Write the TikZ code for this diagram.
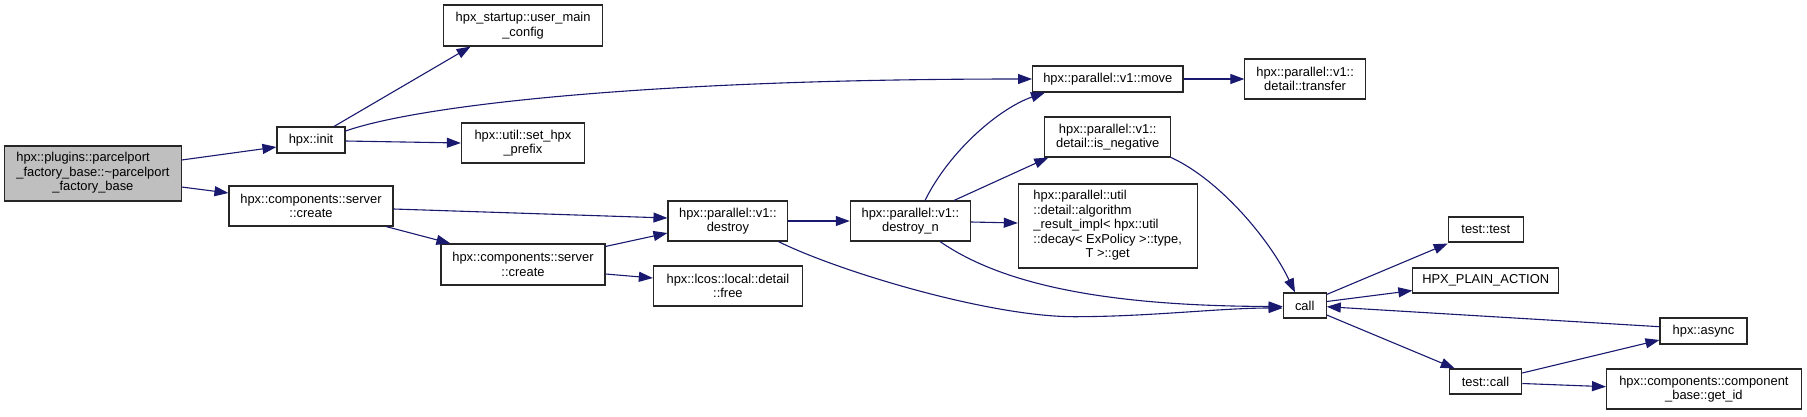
\documentclass[tikz,border=0pt]{standalone}
\usepackage{fontspec}
\setmainfont{Liberation Sans}
\usetikzlibrary{arrows.meta,calc}
\definecolor{edgec}{HTML}{191970}
\definecolor{rootfill}{HTML}{BFBFBF}
\begin{document}
\begin{tikzpicture}[x=1pt,y=-1pt,
  box/.style={draw=black!85, line width=1.1pt, fill=white, inner sep=0pt, align=center,
    font=\fontsize{12.9}{14.5}\selectfont},
  e/.style={draw=edgec, line width=1.1pt, -{Triangle[length=14pt,width=10pt]}}]
\useasboundingbox (0,0) rectangle (1807,416);
\fill[white] (0,0) rectangle (1807,416);
% nodes
\node[box, fill=rootfill, minimum width=176.3pt, minimum height=55pt] (root) at (92.9,173.5)
  {\begin{tabular}{@{}l@{}}hpx::plugins::parcelport\\\_factory\_base::\textasciitilde parcelport\\\multicolumn{1}{@{}c@{}}{\_factory\_base}\end{tabular}};
\node[box, minimum width=68pt, minimum height=26pt] (init) at (311,140) {hpx::init};
\node[box, minimum width=159pt, minimum height=41pt] (umc) at (523.1,25.5) {hpx\_startup::user\_main\\\_config};
\node[box, minimum width=123pt, minimum height=40pt] (shp) at (522.9,143) {hpx::util::set\_hpx\\\_prefix};
\node[box, minimum width=164pt, minimum height=40pt] (cra) at (311,206) {hpx::components::server\\::create};
\node[box, minimum width=164pt, minimum height=41pt] (crb) at (523,264.5) {hpx::components::server\\::create};
\node[box, minimum width=150.4pt, minimum height=26pt] (move) at (1107.8,79) {hpx::parallel::v1::move};
\node[box, minimum width=125.8pt, minimum height=40pt] (isneg) at (1107.7,137) {hpx::parallel::v1::\\detail::is\_negative};
\node[box, minimum width=119.8pt, minimum height=40pt] (destroy) at (727.9,221) {hpx::parallel::v1::\\destroy};
\node[box, minimum width=120.2pt, minimum height=40pt] (destroyn) at (910.4,221) {hpx::parallel::v1::\\destroy\_n};
\node[box, minimum width=178.7pt, minimum height=84pt] (algo) at (1107.7,226)
  {\begin{tabular}{@{}l@{}}hpx::parallel::util\\::detail::algorithm\\\_result\_impl< hpx::util\\::decay< ExPolicy >::type,\\\multicolumn{1}{@{}c@{}}{T >::get}\end{tabular}};
\node[box, minimum width=149pt, minimum height=40pt] (free) at (727.9,286) {hpx::lcos::local::detail\\::free};
\node[box, minimum width=120.4pt, minimum height=40pt] (transfer) at (1305.1,79) {hpx::parallel::v1::\\detail::transfer};
\node[box, minimum width=43pt, minimum height=25pt] (call) at (1304.7,305.5) {call};
\node[box, minimum width=75pt, minimum height=25pt] (ttest) at (1485.8,229.5) {test::test};
\node[box, minimum width=145.6pt, minimum height=25pt] (hpa) at (1485.7,280.5) {HPX\_PLAIN\_ACTION};
\node[box, minimum width=87pt, minimum height=26pt] (async) at (1703.5,331) {hpx::async};
\node[box, minimum width=72.4pt, minimum height=25pt] (tcall) at (1485.5,381.5) {test::call};
\node[box, minimum width=194.7pt, minimum height=40pt] (getid) at (1703.9,389) {hpx::components::component\\\_base::get\_id};
% edges
\draw[e] ($(root.east)+(0,-13.5)$) -- ($(init.west)+(0,7)$);
\draw[e] ($(root.east)+(0,13.5)$) -- ($(cra.west)+(0,-13)$);
\draw[e] ($(init.north)+(23,0)$) -- ($(umc.south)+(-52.5,0)$);
\draw[e] ($(init.east)+(0,-9)$) .. controls (420,105) and (650,79) .. (move.west);
\draw[e] ($(init.east)+(0,1)$) -- (shp.west);
\draw[e] ($(cra.east)+(0,3)$) -- ($(destroy.west)+(0,-3)$);
\draw[e] ($(cra.south east)+(-7.5,0)$) -- ($(crb.north west)+(10,0)$);
\draw[e] ($(crb.north east)+(0,3)$) -- ($(destroy.west)+(0,12)$);
\draw[e] ($(crb.east)+(0,9.5)$) -- ($(free.west)+(0,-8)$);
\draw[e] (destroy.east) -- (destroyn.west);
\draw[e] ($(destroy.south east)+(-10,0)$) .. controls (840,272) and (990,316.7) .. (1074,316.7)
  .. controls (1150,316.7) and (1220,308) .. ($(call.west)+(0,2.5)$);
\draw[e] ($(destroyn.north)+(14.6,0)$) .. controls (950,150) and (1000,108) .. ($(move.south)+(-62.8,0)$);
\draw[e] ($(destroyn.north)+(43.6,0)$) -- ($(isneg.south west)+(4,0)$);
\draw[e] ($(destroyn.east)+(0,1)$) -- ($(algo.west)+(0,-3)$);
\draw[e] ($(destroyn.south)+(29.6,0)$) .. controls (1000,283) and (1100,306) .. ($(call.west)+(0,1)$);
\draw[e] (isneg.south east) .. controls (1220,180) and (1270,240) .. ($(call.north)+(-9.7,0)$);
\draw[e] (move.east) -- (transfer.west);
\draw[e] ($(call.north east)+(0,2)$) -- ($(ttest.south west)+(0,1)$);
\draw[e] ($(call.east)+(0,-4)$) -- ($(hpa.south west)+(0,-3)$);
\draw[e] ($(call.east)+(0,9.5)$) -- ($(tcall.north west)+(6,0)$);
\draw[e] ($(async.west)+(0,-4.3)$) -- ($(call.east)+(0,1.2)$);
\draw[e] ($(tcall.east)+(0,-8.5)$) -- ($(async.west)+(0,9)$);
\draw[e] ($(tcall.east)+(0,2)$) -- ($(getid.west)+(0,-2.3)$);
\end{tikzpicture}
\end{document}
